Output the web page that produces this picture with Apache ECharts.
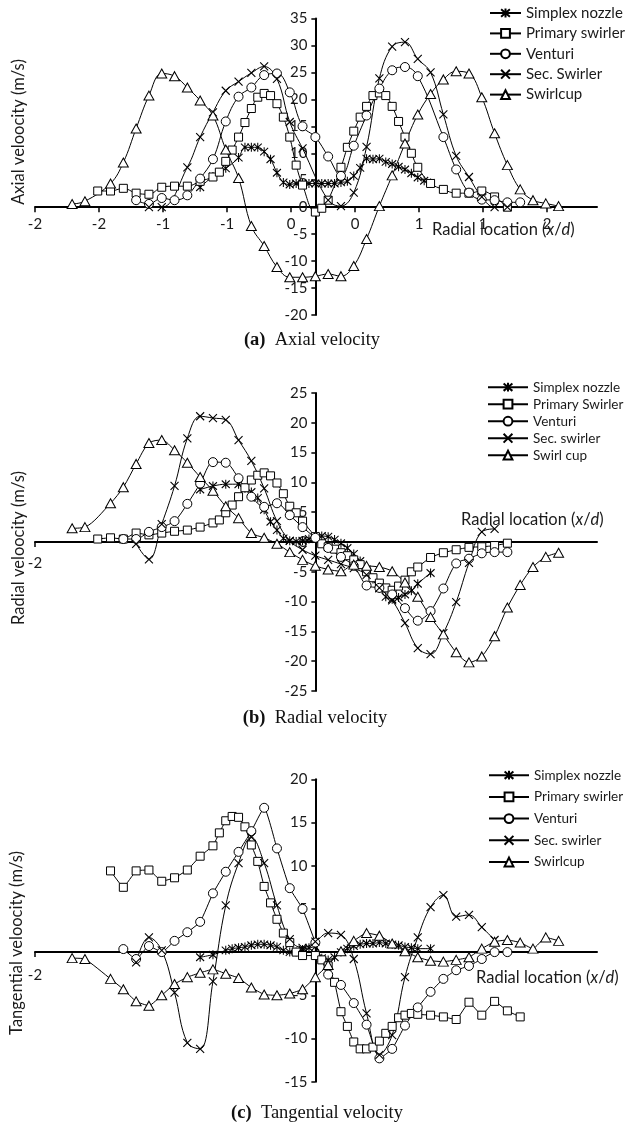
<!DOCTYPE html>
<html>
<head>
<meta charset="utf-8">
<script src="https://cdn.jsdelivr.net/npm/echarts@6/dist/echarts.min.js"></script>
<style>
  html, body { margin: 0; padding: 0; background: #ffffff; }
  #chart { width: 626px; height: 1129px; }
</style>
</head>
<body>
<div id="chart"></div>
<script>
// ---- Measured profiles: [radial location x/d, velocity m/s] ----

// (a) Axial velocity
const axialSimplex = [[-0.9,3.7],[-0.8,5.7],[-0.7,7.2],[-0.6,9.2],[-0.55,11.1],[-0.5,11.1],[-0.45,11.1],[-0.4,10.3],[-0.35,8.9],[-0.3,6.4],[-0.25,4.6],[-0.2,4.2],[-0.15,4.4],[-0.1,4.4],[-0.05,4.4],[0,4.4],[0.05,4.4],[0.1,4.4],[0.15,4.4],[0.2,4.6],[0.25,4.8],[0.3,5.8],[0.35,7.3],[0.4,9.0],[0.45,8.9],[0.5,9.0],[0.55,8.4],[0.6,8.0],[0.65,7.5],[0.7,7.0],[0.75,6.3],[0.8,5.5],[0.85,4.9],[0.9,4.5]];
const axialPrimary = [[-1.7,3.0],[-1.6,3.0],[-1.5,3.5],[-1.4,2.6],[-1.3,2.4],[-1.2,3.7],[-1.1,3.9],[-1.0,3.9],[-0.9,4.8],[-0.8,5.6],[-0.75,6.5],[-0.7,8.5],[-0.65,10.6],[-0.6,13.0],[-0.55,15.7],[-0.5,18.3],[-0.45,20.4],[-0.4,21.1],[-0.35,20.7],[-0.3,19.2],[-0.25,16.7],[-0.2,13.0],[-0.15,7.8],[-0.1,4.1],[0,-0.9],[0.05,-0.2],[0.1,1.3],[0.2,7.4],[0.25,11.1],[0.3,14.1],[0.35,16.7],[0.4,18.7],[0.45,20.7],[0.5,21.2],[0.55,20.7],[0.6,18.7],[0.65,15.9],[0.7,13.0],[0.75,10.0],[0.8,7.4],[0.9,4.4],[1.0,3.3],[1.1,2.6],[1.2,2.6],[1.3,3.0],[1.4,1.9],[1.5,0]];
const axialVenturi = [[-1.4,1.3],[-1.3,0.6],[-1.2,1.7],[-1.1,1.3],[-1.0,2.2],[-0.9,5.3],[-0.8,8.9],[-0.7,15.9],[-0.6,20.5],[-0.5,22.2],[-0.4,24.5],[-0.3,24.8],[-0.2,21.3],[-0.1,15.0],[0,13.0],[0.1,9.4],[0.2,5.8],[0.3,11.4],[0.4,17.0],[0.5,22.0],[0.6,25.4],[0.7,26.0],[0.8,24.3],[1.0,13.0],[1.1,7.0],[1.2,2.7],[1.3,1.4],[1.4,1.3],[1.5,0.9],[1.6,0.9]];
const axialSecondary = [[-1.3,0],[-1.2,0],[-1.0,7.4],[-0.9,13.0],[-0.8,17.6],[-0.7,21.6],[-0.6,23.3],[-0.5,24.9],[-0.4,26.1],[-0.3,23.8],[-0.2,15.8],[-0.1,10.9],[0.1,1.3],[0.2,0.2],[0.3,2.7],[0.4,11.2],[0.5,23.9],[0.6,29.8],[0.7,30.6],[0.8,27.5],[0.9,25.0],[1.0,17.2],[1.1,9.5],[1.2,5.6],[1.3,1.9],[1.4,0],[1.5,0]];
const axialSwirlcup = [[-1.9,0.6],[-1.8,1.1],[-1.6,4.4],[-1.5,8.3],[-1.4,14.6],[-1.3,20.7],[-1.2,24.8],[-1.1,24.3],[-1.0,22.2],[-0.9,19.8],[-0.8,17.0],[-0.7,10.7],[-0.6,5.4],[-0.5,-3.5],[-0.4,-7.2],[-0.3,-11.1],[-0.2,-13.0],[-0.1,-13.0],[0,-12.8],[0.1,-12.4],[0.2,-12.8],[0.3,-10.9],[0.4,-5.9],[0.5,0.2],[0.6,5.9],[0.7,11.8],[0.8,17.2],[0.9,21.0],[1.0,23.7],[1.1,25.2],[1.2,24.8],[1.3,20.4],[1.4,13.7],[1.5,7.8],[1.6,3.3],[1.7,1.3],[1.8,0.7],[1.9,0.2]];

// (b) Radial velocity
const radialSimplex = [[-0.9,8.8],[-0.8,9.4],[-0.7,9.7],[-0.6,9.7],[-0.55,9.0],[-0.5,8.4],[-0.45,7.4],[-0.4,5.4],[-0.35,3.4],[-0.3,2.0],[-0.25,0.6],[-0.2,0.2],[-0.15,0.1],[-0.1,0.2],[-0.05,0.5],[0,0.8],[0.05,1.0],[0.1,0.9],[0.15,0.4],[0.2,-0.2],[0.25,-1.0],[0.3,-2.0],[0.35,-3.2],[0.4,-4.6],[0.45,-6.2],[0.5,-7.8],[0.55,-9.2],[0.6,-9.6],[0.65,-9.3],[0.7,-8.8],[0.75,-8.2],[0.8,-7.0],[0.9,-5.2]];
const radialPrimary = [[-1.7,0.5],[-1.6,0.7],[-1.5,0.5],[-1.4,1.5],[-1.3,1.2],[-1.2,1.5],[-1.1,1.8],[-1.0,2.0],[-0.9,2.5],[-0.8,3.2],[-0.75,3.7],[-0.7,4.9],[-0.65,6.2],[-0.6,7.6],[-0.55,9.1],[-0.5,10.4],[-0.45,11.2],[-0.4,11.6],[-0.35,11.1],[-0.3,9.9],[-0.25,8.1],[-0.2,6.0],[-0.15,4.9],[-0.1,3.5],[0,0.9],[0.05,-0.3],[0.1,-0.8],[0.15,-1.2],[0.2,-1.8],[0.25,-2.3],[0.3,-3.0],[0.35,-3.8],[0.4,-5.0],[0.45,-6.0],[0.5,-6.9],[0.55,-7.7],[0.6,-8.1],[0.65,-7.4],[0.7,-6.4],[0.75,-5.0],[0.8,-4.2],[0.9,-2.6],[1.0,-1.8],[1.1,-1.3],[1.2,-0.9],[1.3,-0.8],[1.4,-0.6],[1.5,-0.2]];
const radialVenturi = [[-1.5,0.5],[-1.4,0.5],[-1.3,1.7],[-1.2,2.5],[-1.1,3.5],[-1.0,6.4],[-0.9,9.8],[-0.8,13.4],[-0.7,13.3],[-0.6,10.7],[-0.5,7.6],[-0.4,5.9],[-0.3,6.5],[-0.2,4.5],[-0.1,2.5],[0,0.7],[0.1,-1.0],[0.2,-2.5],[0.3,-4.0],[0.4,-7.3],[0.5,-7.7],[0.6,-8.8],[0.7,-11.1],[0.8,-13.2],[0.9,-11.6],[1.0,-7.8],[1.1,-3.6],[1.2,-2.8],[1.3,-1.9],[1.4,-1.7],[1.5,-1.7]];
const radialSecondary = [[-1.4,-0.3],[-1.3,-2.9],[-1.2,3.0],[-1.1,9.4],[-1.0,17.4],[-0.9,21.1],[-0.8,20.8],[-0.7,20.5],[-0.6,17.1],[-0.5,13.6],[-0.4,9.0],[-0.3,3.5],[-0.2,0.2],[-0.1,-1.3],[0,-2.3],[0.1,-3.0],[0.2,-3.7],[0.3,-4.4],[0.4,-5.5],[0.5,-7.7],[0.6,-9.8],[0.7,-13.6],[0.8,-17.8],[0.9,-18.8],[1.0,-15.3],[1.1,-10.1],[1.2,-3.5],[1.3,1.7],[1.4,2.2]];
const radialSwirlcup = [[-1.9,2.3],[-1.8,2.5],[-1.6,6.5],[-1.5,9.2],[-1.4,13.1],[-1.3,16.6],[-1.2,17.1],[-1.1,15.4],[-1.0,13.3],[-0.9,10.9],[-0.8,8.6],[-0.7,6.0],[-0.6,4.0],[-0.5,1.5],[-0.4,0.7],[-0.3,-0.3],[-0.2,-1.7],[-0.1,-3.0],[0,-4.0],[0.1,-4.6],[0.2,-4.9],[0.3,-3.8],[0.4,-4.0],[0.5,-4.2],[0.6,-4.9],[0.7,-6.8],[0.8,-9.2],[0.9,-12.6],[1.0,-15.5],[1.1,-18.5],[1.2,-20.2],[1.3,-19.2],[1.4,-15.8],[1.5,-11.0],[1.6,-7.2],[1.7,-4.2],[1.8,-2.5],[1.9,-1.8]];

// (c) Tangential velocity
const tangSimplex = [[-0.9,-0.6],[-0.8,-0.3],[-0.7,0.2],[-0.65,0.4],[-0.6,0.5],[-0.55,0.6],[-0.5,0.8],[-0.45,0.9],[-0.4,0.9],[-0.35,0.8],[-0.3,0.6],[-0.25,0.2],[-0.2,0],[-0.15,0],[-0.1,0.3],[-0.05,0.5],[0,0.6],[0.05,-0.7],[0.1,-0.9],[0.15,-0.6],[0.2,0],[0.25,0.4],[0.3,0.7],[0.35,0.9],[0.4,1.0],[0.45,1.0],[0.5,1.1],[0.55,1.0],[0.6,0.9],[0.65,0.8],[0.7,0.6],[0.75,0.5],[0.8,0.4],[0.9,0.4]];
const tangPrimary = [[-1.6,9.4],[-1.5,7.5],[-1.4,9.4],[-1.3,9.5],[-1.2,8.2],[-1.1,8.6],[-1.0,9.5],[-0.9,11.1],[-0.8,12.3],[-0.75,13.8],[-0.7,15.2],[-0.65,15.7],[-0.6,15.6],[-0.55,14.5],[-0.5,12.4],[-0.45,10.5],[-0.4,7.6],[-0.35,5.7],[-0.3,3.8],[-0.25,2.2],[-0.2,1.1],[-0.15,0],[-0.1,-0.4],[0,-0.4],[0.05,-0.9],[0.1,-1.6],[0.15,-3.5],[0.2,-6.9],[0.25,-8.6],[0.3,-10.4],[0.35,-11.2],[0.4,-11.2],[0.45,-11.0],[0.5,-10.3],[0.55,-9.4],[0.6,-8.6],[0.65,-7.6],[0.7,-7.3],[0.75,-7.1],[0.8,-7.2],[0.9,-7.3],[1.0,-7.5],[1.1,-7.8],[1.2,-5.8],[1.3,-7.3],[1.4,-5.7],[1.5,-6.8],[1.6,-7.5]];
const tangVenturi = [[-1.5,0.35],[-1.4,-0.8],[-1.3,0.7],[-1.2,0],[-1.1,1.3],[-1.0,2.3],[-0.9,3.5],[-0.8,6.8],[-0.7,9.3],[-0.6,11.6],[-0.5,14.0],[-0.4,16.7],[-0.3,12.0],[-0.2,7.4],[-0.1,5.0],[0,1.1],[0.1,-2.6],[0.2,-3.8],[0.3,-5.9],[0.4,-8.4],[0.5,-12.3],[0.6,-11.2],[0.7,-8.5],[0.8,-6.4],[0.9,-4.6],[1.0,-3.1],[1.1,-2.1],[1.2,-1.6],[1.3,-0.8],[1.4,0],[1.5,0]];
const tangSecondary = [[-1.4,-1.2],[-1.3,1.7],[-1.2,0.2],[-1.1,-4.7],[-1.0,-10.5],[-0.9,-11.2],[-0.8,-3.4],[-0.7,5.4],[-0.6,10.3],[-0.5,13.3],[-0.4,10.3],[-0.3,5.4],[-0.2,1.5],[-0.1,0.5],[0,1.2],[0.1,2.2],[0.2,2.0],[0.3,-0.8],[0.4,-7.1],[0.5,-11.9],[0.6,-9.6],[0.7,-2.9],[0.8,1.7],[0.9,5.2],[1.0,6.6],[1.1,4.1],[1.2,4.3],[1.3,2.9],[1.4,1.4]];
const tangSwirlcup = [[-1.9,-0.7],[-1.8,-0.8],[-1.6,-3.1],[-1.5,-4.3],[-1.4,-5.7],[-1.3,-6.2],[-1.2,-5.0],[-1.1,-3.7],[-1.0,-2.9],[-0.9,-2.4],[-0.8,-2.0],[-0.7,-2.5],[-0.6,-3.0],[-0.5,-4.1],[-0.4,-4.9],[-0.3,-5.0],[-0.2,-4.8],[-0.1,-4.3],[0,-2.9],[0.1,-1.5],[0.2,0.1],[0.3,1.3],[0.4,2.2],[0.5,1.9],[0.6,1.0],[0.7,0.1],[0.8,-0.6],[0.9,-1.0],[1.0,-1.1],[1.1,-0.9],[1.2,-0.6],[1.3,0.4],[1.4,1.2],[1.5,1.4],[1.6,1.1],[1.7,0.4],[1.8,1.7],[1.9,1.3]];

// Legend names per panel
const axialNames = ['Simplex nozzle', 'Primary swirler', 'Venturi', 'Sec. Swirler', 'Swirlcup'];
const radialNames = ['Simplex nozzle', 'Primary Swirler', 'Venturi', 'Sec. swirler', 'Swirl cup'];
const tangNames = ['Simplex nozzle', 'Primary swirler', 'Venturi', 'Sec. swirler', 'Swirlcup'];

// Axis ranges: [min, max, step]
const axialRange = [-20, 35, 5];
const radialRange = [-25, 25, 5];
const tangRange = [-15, 20, 5];
const xRange = [-2.19, 2.2];
const xTickValues = [-2.19, -1.69, -1.19, -0.69, -0.19, 0.31, 0.81, 1.31, 1.81];

// Titles
const yTitles = ['Axial veloocity (m/s)', 'Radial veloocity (m/s)', 'Tangential veloocity (m/s)'];
const captions = [['(a)', 'Axial velocity'], ['(b)', 'Radial velocity'], ['(c)', 'Tangential velocity']];

// ---- Drawing ----
const SANS = 'Lato, "Open Sans", "DejaVu Sans", sans-serif';
const SERIF = '"Liberation Serif", "DejaVu Serif", serif';
const INK = '#1a1a1a';
const CHART_W = 626, GRID_LEFT = 35, GRID_RIGHT = 29;
const GRID_W = CHART_W - GRID_LEFT - GRID_RIGHT;

const markers = [
  { symbol: 'path://M0,1L10,11M10,1L0,11M5,0L5,12', size: [8, 9], color: '#000', border: 1.1 },
  { symbol: 'rect', size: 8, color: '#fff', border: 1 },
  { symbol: 'circle', size: 9, color: '#fff', border: 1 },
  { symbol: 'path://M0,0L10,10M10,0L0,10', size: 8, color: '#000', border: 1.1 },
  { symbol: 'triangle', size: [10, 9], color: '#fff', border: 1 }
];

const panels = [
  { top: 18.5, height: 296.5, range: axialRange, names: axialNames,
    data: [axialSimplex, axialPrimary, axialVenturi, axialSecondary, axialSwirlcup],
    smooth: [0.4, 0.4, 0.4, 0.4, 0.4], allLabels: true, labelMargin: 9,
    legend: { top: 5.5, left: 489, itemWidth: 31, fontSize: 15, lineHeight: 15, gap: 5.4 } },
  { top: 393, height: 298, range: radialRange, names: radialNames,
    data: [radialSimplex, radialPrimary, radialVenturi, radialSecondary, radialSwirlcup],
    smooth: [0.3, 0.2, 0.3, 0.4, 0.3], allLabels: false, labelMargin: 14,
    legend: { top: 380.2, left: 487, itemWidth: 40, fontSize: 13.5, lineHeight: 13.5, gap: 3 } },
  { top: 779.3, height: 302.4, range: tangRange, names: tangNames,
    data: [tangSimplex, tangPrimary, tangVenturi, tangSecondary, tangSwirlcup],
    smooth: [0.2, 0.1, 0.15, 0.4, 0.15], allLabels: false, labelMargin: 16,
    legend: { top: 768.2, left: 488, itemWidth: 40, fontSize: 13.5, lineHeight: 13.5, gap: 7.7 } }
];

const roundLabel = v => { const r = Math.round(v); return String(r === 0 ? 0 : r); };

const grid = [], xAxis = [], yAxis = [], legend = [], series = [];

panels.forEach((p, i) => {
  grid.push({ left: GRID_LEFT, right: GRID_RIGHT, top: p.top, height: p.height, outerBoundsMode: 'none' });

  // Axes cross at the origin: shift each axis from the grid edge to zero
  const yAxisShift = -(0 - xRange[0]) / (xRange[1] - xRange[0]) * GRID_W;
  const xAxisShift = -(0 - p.range[0]) / (p.range[1] - p.range[0]) * p.height;

  const xVals = p.allLabels ? xTickValues : [xTickValues[0]];
  xAxis.push({
    gridIndex: i, type: 'value', min: xRange[0], max: xRange[1], interval: 0.5,
    position: 'bottom', offset: xAxisShift,
    axisLine: { show: true, onZero: false, lineStyle: { color: '#000', width: 2 } },
    axisTick: { show: true, length: 5, customValues: xVals, lineStyle: { color: '#000', width: 1.5 } },
    axisLabel: { show: true, customValues: xVals, formatter: roundLabel, margin: p.labelMargin,
      fontFamily: SANS, fontSize: 15, color: INK },
    splitLine: { show: false }
  });

  yAxis.push({
    gridIndex: i, type: 'value', min: p.range[0], max: p.range[1], interval: p.range[2],
    position: 'left', offset: yAxisShift,
    axisLine: { show: true, onZero: false, lineStyle: { color: '#000', width: 2 } },
    axisTick: { show: true, length: 4, lineStyle: { color: '#000', width: 1.5 } },
    axisLabel: { fontFamily: SANS, fontSize: 15, color: INK, margin: 8 },
    splitLine: { show: false }
  });

  legend.push({
    orient: 'vertical', top: p.legend.top, left: p.legend.left, padding: 0,
    itemWidth: p.legend.itemWidth, itemHeight: 11, itemGap: p.legend.gap,
    selectedMode: false, data: p.names,
    textStyle: { fontFamily: SANS, fontSize: p.legend.fontSize, lineHeight: p.legend.lineHeight, color: INK }
  });

  p.data.forEach((d, k) => {
    const m = markers[k];
    series.push({
      type: 'line', name: p.names[k], xAxisIndex: i, yAxisIndex: i, data: d,
      symbol: m.symbol, symbolSize: m.size, smooth: p.smooth[k],
      lineStyle: { color: '#000', width: 1 },
      itemStyle: { color: m.color, borderColor: '#000', borderWidth: m.border },
      emphasis: { disabled: true }, z: 3
    });
  });
});

// Axis titles and panel captions
const yTitlePos = [[19, 132], [19, 548], [17, 943]];
const xTitlePos = [[432, 230], [461, 520], [476, 978]];
const captionPos = [[312, 340], [315, 718], [317, 1113]];
const graphic = [];
panels.forEach((p, i) => {
  graphic.push({
    type: 'text', x: yTitlePos[i][0], y: yTitlePos[i][1], rotation: Math.PI / 2,
    style: { text: yTitles[i], fontFamily: SANS, fontSize: 16.5, fill: INK, align: 'center', verticalAlign: 'middle' }
  });
  graphic.push({
    type: 'text', x: xTitlePos[i][0], y: xTitlePos[i][1],
    style: { text: 'Radial location ({i|x}/{i|d})', fontFamily: SANS, fontSize: 16.5, fill: INK,
      align: 'left', verticalAlign: 'middle',
      rich: { i: { fontStyle: 'italic', fontFamily: SANS, fontSize: 16.5, fill: INK } } }
  });
  graphic.push({
    type: 'text', x: captionPos[i][0], y: captionPos[i][1],
    style: { text: '{b|' + captions[i][0] + '}  ' + captions[i][1], fontFamily: SERIF, fontSize: 18.5, fill: '#111',
      align: 'center', verticalAlign: 'middle',
      rich: { b: { fontWeight: 'bold', fontFamily: SERIF, fontSize: 18.5, fill: '#111' } } }
  });
});

const chart = echarts.init(document.getElementById('chart'), null, { renderer: 'canvas' });
chart.setOption({
  backgroundColor: '#ffffff',
  animation: false,
  grid, xAxis, yAxis, legend, series, graphic
});
</script>
</body>
</html>
